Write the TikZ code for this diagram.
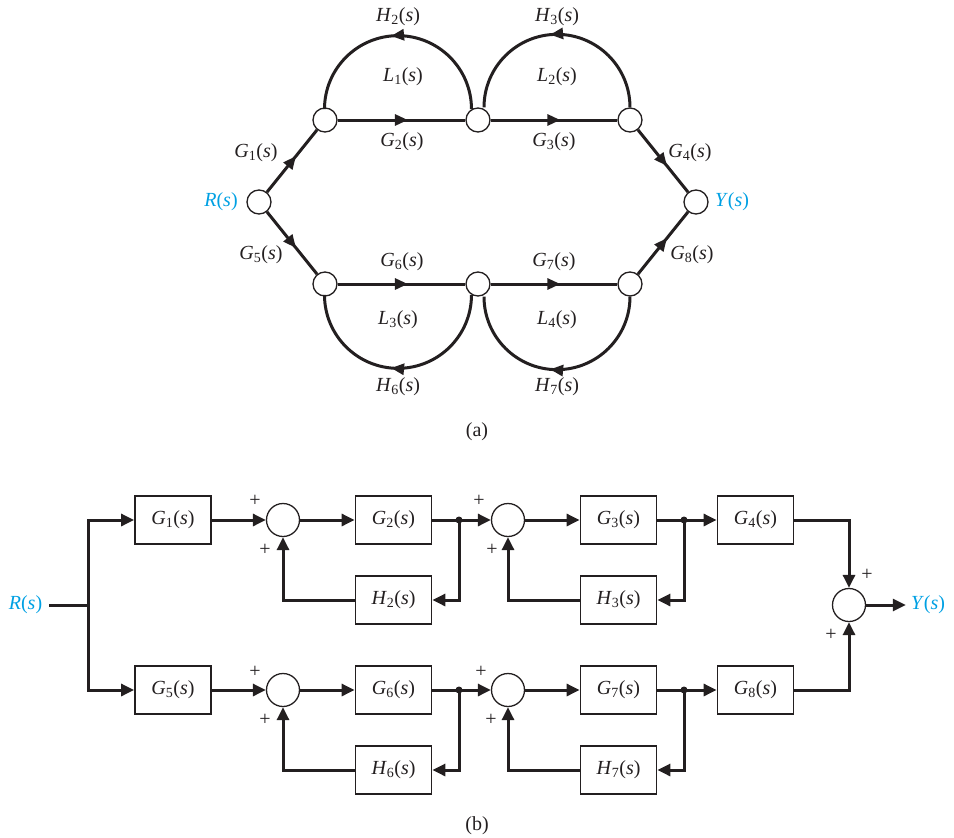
\documentclass[tikz,border=0pt]{standalone}
\usepackage{fontspec}
\setmainfont{Liberation Serif}
\usetikzlibrary{arrows.meta,decorations.markings,calc}
\definecolor{ink}{RGB}{35,31,32}
\definecolor{sigc}{RGB}{0,160,227}
\newcommand{\tf}[2]{\textit{#1}\textsubscript{#2}(\textit{s})}
\newcommand{\sg}[1]{\textit{#1}(\textit{s})}
\begin{document}
\begin{tikzpicture}[x=1pt,y=1pt,
  every node/.style={font=\fontsize{20}{24}\selectfont, text=ink},
  gnode/.style={circle,draw=ink,line width=1.3pt,fill=white,minimum size=24pt,inner sep=0pt},
  gedge/.style={draw=ink,line width=3pt,postaction={decorate},
    decoration={markings,mark=at position #1 with {\arrow{Triangle[length=13pt,width=11pt]}}}},
  gedge/.default=0.55,
  block/.style={draw=ink,line width=1.8pt,fill=white,minimum width=76pt,minimum height=48pt,inner sep=0pt},
  sumnode/.style={circle,draw=ink,line width=1.3pt,fill=white,minimum size=33pt,inner sep=0pt},
  sigline/.style={draw=ink,line width=3pt},
  arr/.style={sigline,-{Triangle[length=13pt,width=12pt]}},
  jdot/.style={circle,fill=ink,minimum size=7pt,inner sep=0pt},
  lab/.style={inner sep=0pt},
  io/.style={text=sigc}
]
\useasboundingbox (0,0) rectangle (954,-838);

% ---------- (a) signal-flow graph ----------
\node[gnode] (R)  at (259,-202) {};
\node[gnode] (n1) at (325,-120) {};
\node[gnode] (n2) at (478,-120) {};
\node[gnode] (n3) at (630,-120) {};
\node[gnode] (Y)  at (696,-202) {};
\node[gnode] (n5) at (325,-284) {};
\node[gnode] (n6) at (478,-284) {};
\node[gnode] (n7) at (630,-284) {};

\draw[gedge=0.58] (R) -- (n1);
\draw[gedge] (n1) -- (n2);
\draw[gedge] (n2) -- (n3);
\draw[gedge=0.58] (n3) -- (Y);
\draw[gedge=0.58] (R) -- (n5);
\draw[gedge] (n5) -- (n6);
\draw[gedge] (n6) -- (n7);
\draw[gedge=0.58] (n7) -- (Y);
\draw[gedge=0.53] (n2.121) arc[start angle=0,end angle=180,radius=73.5pt];
\draw[gedge=0.53] (n3.north) arc[start angle=0,end angle=180,radius=73pt];
\draw[gedge=0.53] (n6.239) arc[start angle=0,end angle=-180,radius=73.5pt];
\draw[gedge=0.53] (n7.south) arc[start angle=0,end angle=-180,radius=73pt];

\node[lab] (lH2) at (398,-17) {\tf{H}{2}};
\node[lab] (lL1) at (403,-77) {\tf{L}{1}};
\node[lab] (lG2) at (402,-142) {\tf{G}{2}};
\node[lab] (lG1) at (256,-153) {\tf{G}{1}};
\node[lab,io] (lR) at (221,-202) {\sg{R}};
\node[lab] (lH3) at (557,-17) {\tf{H}{3}};
\node[lab] (lL2) at (557,-77) {\tf{L}{2}};
\node[lab] (lG3) at (554,-142) {\tf{G}{3}};
\node[lab] (lG4) at (690,-153) {\tf{G}{4}};
\node[lab,io] (lY) at (732,-202) {\sg{Y}};
\node[lab] (lG5) at (261,-255) {\tf{G}{5}};
\node[lab] (lG6) at (402,-262) {\tf{G}{6}};
\node[lab] (lG7) at (554,-262) {\tf{G}{7}};
\node[lab] (lG8) at (692,-255) {\tf{G}{8}};
\node[lab] (lL3) at (398,-320) {\tf{L}{3}};
\node[lab] (lL4) at (557,-320) {\tf{L}{4}};
\node[lab] (lH6) at (398,-387) {\tf{H}{6}};
\node[lab] (lH7) at (557,-387) {\tf{H}{7}};
\node[lab] (capa) at (477,-432) {(a)};

% ---------- (b) block diagram ----------
\node[lab,io] (Rb) at (25.5,-605) {\sg{R}};
\coordinate (split) at (88,-605);
\node[block] (G1) at (173,-520) {\tf{G}{1}};
\node[block] (G5) at (173,-690) {\tf{G}{5}};
\node[sumnode] (S1) at (283,-520) {};
\node[sumnode] (S5) at (283,-690) {};
\node[block] (G2) at (393.5,-520) {\tf{G}{2}};
\node[block] (H2) at (393.5,-600) {\tf{H}{2}};
\node[block] (G6) at (393.5,-690) {\tf{G}{6}};
\node[block] (H6) at (393.5,-770) {\tf{H}{6}};
\node[jdot] (J2) at (459,-520) {};
\node[jdot] (J6) at (459,-690) {};
\node[sumnode] (S2) at (508,-520) {};
\node[sumnode] (S6) at (508,-690) {};
\node[block] (G3) at (618.5,-520) {\tf{G}{3}};
\node[block] (H3) at (618.5,-600) {\tf{H}{3}};
\node[block] (G7) at (618.5,-690) {\tf{G}{7}};
\node[block] (H7) at (618.5,-770) {\tf{H}{7}};
\node[jdot] (J3) at (684,-520) {};
\node[jdot] (J7) at (684,-690) {};
\node[block] (G4) at (755.5,-520) {\tf{G}{4}};
\node[block] (G8) at (755.5,-690) {\tf{G}{8}};
\node[sumnode] (So) at (849,-605) {};
\node[lab,io] (Yb) at (928,-605) {\sg{Y}};

\draw[sigline] ($(Rb.east)+(7,0)$) -- (split);
\draw[arr] (split) |- (G1.west);
\draw[arr] (split) |- (G5.west);

\draw[arr] (G1) -- (S1);
\draw[arr] (S1) -- (G2);
\draw[sigline] (G2) -- (J2.center);
\draw[arr] (J2.center) -- (S2);
\draw[arr] (J2.center) |- (H2.east);
\draw[arr] (H2.west) -| (S1.south);
\draw[arr] (S2) -- (G3);
\draw[sigline] (G3) -- (J3.center);
\draw[arr] (J3.center) -- (G4);
\draw[arr] (J3.center) |- (H3.east);
\draw[arr] (H3.west) -| (S2.south);

\draw[arr] (G5) -- (S5);
\draw[arr] (S5) -- (G6);
\draw[sigline] (G6) -- (J6.center);
\draw[arr] (J6.center) -- (S6);
\draw[arr] (J6.center) |- (H6.east);
\draw[arr] (H6.west) -| (S5.south);
\draw[arr] (S6) -- (G7);
\draw[sigline] (G7) -- (J7.center);
\draw[arr] (J7.center) -- (G8);
\draw[arr] (J7.center) |- (H7.east);
\draw[arr] (H7.west) -| (S6.south);

\draw[arr] (G4.east) -| (So.north);
\draw[arr] (G8.east) -| (So.south);
\draw[arr] (So.east) -- ($(Yb.west)+(-5,0)$);

\node[lab] (p1a) at (255,-501) {+};
\node[lab] (p1b) at (265,-550) {+};
\node[lab] (p2a) at (479,-501) {+};
\node[lab] (p2b) at (492,-550) {+};
\node[lab] (p5a) at (255,-672) {+};
\node[lab] (p5b) at (265,-720) {+};
\node[lab] (p6a) at (481,-672) {+};
\node[lab] (p6b) at (491,-720) {+};
\node[lab] (poa) at (867,-575) {+};
\node[lab] (pob) at (831,-635) {+};

\node[lab] (capb) at (477,-826) {(b)};
\end{tikzpicture}
\end{document}
